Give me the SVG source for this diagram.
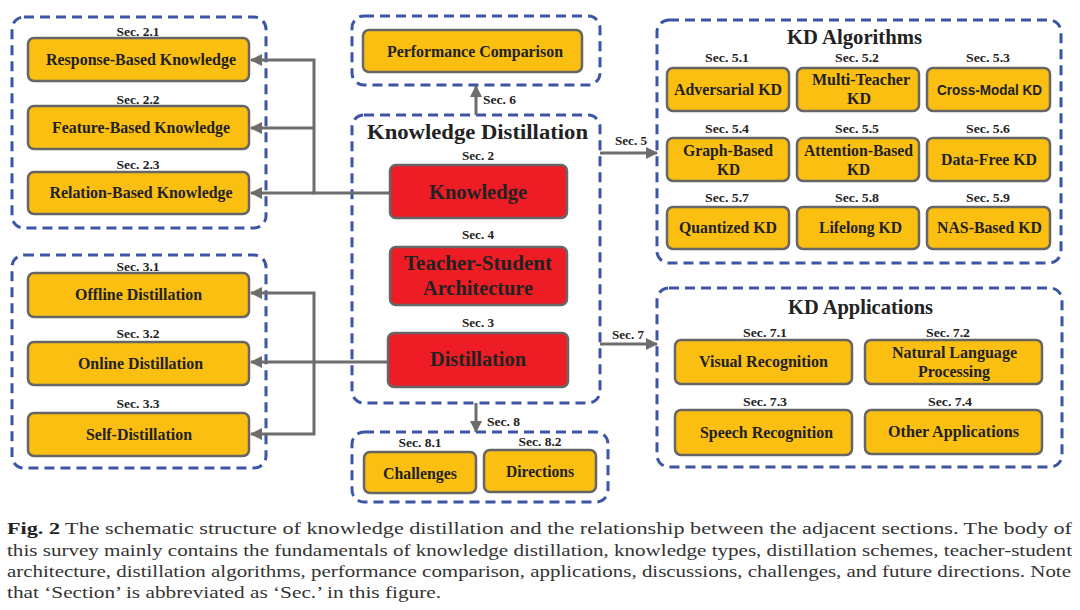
<svg xmlns="http://www.w3.org/2000/svg" width="1080" height="610" viewBox="0 0 1080 610" font-family="Liberation Serif, DejaVu Serif, Times New Roman, serif">
<defs>
<style>
.grp{fill:none;stroke:#3b56a6;stroke-width:3;stroke-dasharray:10 6}
.ob{fill:#fbbf12;stroke:#666;stroke-width:2.5}
.rb{fill:#ee1c24;stroke:#666;stroke-width:2.5}
text{font-family:Liberation Serif,DejaVu Serif,Times New Roman,serif;font-weight:bold;fill:#222;text-anchor:middle}
.t{font-size:16px}
.ts{font-family:Liberation Sans,Arial,sans-serif;font-size:14px}
.s{font-size:12px}
.sl{font-size:12px;text-anchor:start}
.h{font-size:20.5px}
.r{font-size:20.5px}
.cap{font-weight:normal;font-size:17.5px;text-anchor:start;fill:#333}
.con{fill:none;stroke:#6d6d6d;stroke-width:3}
</style>
<marker id="ah" markerUnits="userSpaceOnUse" markerWidth="12" markerHeight="12" viewBox="0 0 12 12" refX="11" refY="6" orient="auto">
<path d="M0,0 L12,6 L0,12 z" fill="#6d6d6d"/>
</marker>
</defs>
<rect width="1080" height="610" fill="#fff"/>

<g id="group-knowledge-types">
<rect class="grp" x="12" y="17" width="254" height="211" rx="12"/>
</g>
<g id="group-schemes">
<rect class="grp" x="12" y="255" width="254" height="213" rx="12"/>
</g>
<g id="group-performance">
<rect class="grp" x="352" y="16" width="248" height="69" rx="12"/>
</g>
<g id="group-kd">
<rect class="grp" x="352" y="115" width="248" height="288" rx="12"/>
<text class="h" x="477.5" y="139" textLength="221" lengthAdjust="spacingAndGlyphs">Knowledge Distillation</text>
</g>
<g id="group-future">
<rect class="grp" x="352" y="432" width="256" height="70" rx="12"/>
</g>
<g id="group-algorithms">
<rect class="grp" x="657" y="20" width="404" height="243" rx="12"/>
<text class="h" x="854.5" y="44" textLength="135" lengthAdjust="spacingAndGlyphs">KD Algorithms</text>
</g>
<g id="group-applications">
<rect class="grp" x="657" y="288" width="405" height="179" rx="12"/>
<text class="h" x="860.5" y="314" textLength="145" lengthAdjust="spacingAndGlyphs">KD Applications</text>
</g>

<g id="connectors">
<path class="con" d="M390,193 H314 V60 H251" marker-end="url(#ah)"/>
<path class="con" d="M314,128 H251" marker-end="url(#ah)"/>
<path class="con" d="M314,193 H251" marker-end="url(#ah)"/>
<path class="con" d="M388,362 H314 V293 H251" marker-end="url(#ah)"/>
<path class="con" d="M314,362 H251" marker-end="url(#ah)"/>
<path class="con" d="M314,362 V434 H251" marker-end="url(#ah)"/>
<path class="con" d="M476,115 V86" marker-end="url(#ah)"/>
<text class="sl" x="483" y="104" textLength="33" lengthAdjust="spacingAndGlyphs">Sec. 6</text>
<path class="con" d="M600,153 H657" marker-end="url(#ah)"/>
<text class="sl" x="615" y="145" textLength="32" lengthAdjust="spacingAndGlyphs">Sec. 5</text>
<path class="con" d="M600,344 H657" marker-end="url(#ah)"/>
<text class="sl" x="612" y="339" textLength="32" lengthAdjust="spacingAndGlyphs">Sec. 7</text>
<path class="con" d="M476,403 V432" marker-end="url(#ah)"/>
<text class="sl" x="487" y="426" textLength="33" lengthAdjust="spacingAndGlyphs">Sec. 8</text>
</g>

<g id="n-response">
<text class="s" x="138" y="36" textLength="43" lengthAdjust="spacingAndGlyphs">Sec. 2.1</text>
<rect class="ob" x="28" y="38" width="221" height="43" rx="6"/>
<text class="t" x="141" y="65" textLength="190" lengthAdjust="spacingAndGlyphs">Response-Based Knowledge</text>
</g>
<g id="n-feature">
<text class="s" x="138" y="104" textLength="43" lengthAdjust="spacingAndGlyphs">Sec. 2.2</text>
<rect class="ob" x="28" y="106" width="221" height="43" rx="6"/>
<text class="t" x="141" y="133" textLength="178" lengthAdjust="spacingAndGlyphs">Feature-Based Knowledge</text>
</g>
<g id="n-relation">
<text class="s" x="138" y="169" textLength="43" lengthAdjust="spacingAndGlyphs">Sec. 2.3</text>
<rect class="ob" x="28" y="172" width="221" height="42" rx="6"/>
<text class="t" x="141" y="198" textLength="183" lengthAdjust="spacingAndGlyphs">Relation-Based Knowledge</text>
</g>

<g id="n-offline">
<text class="s" x="138" y="271" textLength="43" lengthAdjust="spacingAndGlyphs">Sec. 3.1</text>
<rect class="ob" x="28" y="273" width="221" height="44" rx="6"/>
<text class="t" x="138.5" y="300" textLength="127" lengthAdjust="spacingAndGlyphs">Offline Distillation</text>
</g>
<g id="n-online">
<text class="s" x="138" y="338" textLength="43" lengthAdjust="spacingAndGlyphs">Sec. 3.2</text>
<rect class="ob" x="28" y="342" width="221" height="43" rx="6"/>
<text class="t" x="140.5" y="369" textLength="125" lengthAdjust="spacingAndGlyphs">Online Distillation</text>
</g>
<g id="n-self">
<text class="s" x="138" y="408" textLength="43" lengthAdjust="spacingAndGlyphs">Sec. 3.3</text>
<rect class="ob" x="28" y="413" width="221" height="43" rx="6"/>
<text class="t" x="139" y="440" textLength="106" lengthAdjust="spacingAndGlyphs">Self-Distillation</text>
</g>

<g id="n-performance">
<rect class="ob" x="363" y="30" width="219" height="42" rx="6"/>
<text class="t" x="475" y="57" textLength="176" lengthAdjust="spacingAndGlyphs">Performance Comparison</text>
</g>

<g id="n-knowledge">
<text class="s" x="478" y="160" textLength="32" lengthAdjust="spacingAndGlyphs">Sec. 2</text>
<rect class="rb" x="390" y="165" width="177" height="53" rx="6"/>
<text class="r" x="478" y="199" textLength="98" lengthAdjust="spacingAndGlyphs">Knowledge</text>
</g>
<g id="n-teacher-student">
<text class="s" x="478" y="239" textLength="32" lengthAdjust="spacingAndGlyphs">Sec. 4</text>
<rect class="rb" x="390" y="247" width="177" height="58" rx="6"/>
<text class="r" x="478" y="270" textLength="148" lengthAdjust="spacingAndGlyphs">Teacher-Student</text>
<text class="r" x="478" y="295" textLength="110" lengthAdjust="spacingAndGlyphs">Architecture</text>
</g>
<g id="n-distillation">
<text class="s" x="478" y="327" textLength="32" lengthAdjust="spacingAndGlyphs">Sec. 3</text>
<rect class="rb" x="388" y="333" width="180" height="54" rx="6"/>
<text class="r" x="478" y="366" textLength="96" lengthAdjust="spacingAndGlyphs">Distillation</text>
</g>

<g id="n-challenges">
<text class="s" x="420" y="447" textLength="43" lengthAdjust="spacingAndGlyphs">Sec. 8.1</text>
<rect class="ob" x="364" y="452" width="112" height="41" rx="6"/>
<text class="t" x="420" y="479" textLength="74" lengthAdjust="spacingAndGlyphs">Challenges</text>
</g>
<g id="n-directions">
<text class="s" x="540" y="446" textLength="43" lengthAdjust="spacingAndGlyphs">Sec. 8.2</text>
<rect class="ob" x="484" y="450" width="112" height="42" rx="6"/>
<text class="t" x="540" y="477" textLength="68" lengthAdjust="spacingAndGlyphs">Directions</text>
</g>

<g id="n-adversarial">
<text class="s" x="727" y="62" textLength="44" lengthAdjust="spacingAndGlyphs">Sec. 5.1</text>
<rect class="ob" x="667" y="68" width="122" height="43" rx="6"/>
<text class="t" x="728" y="95" textLength="108" lengthAdjust="spacingAndGlyphs">Adversarial KD</text>
</g>
<g id="n-multiteacher">
<text class="s" x="857" y="62" textLength="44" lengthAdjust="spacingAndGlyphs">Sec. 5.2</text>
<rect class="ob" x="797" y="68" width="122" height="43" rx="6"/>
<text class="t" x="861" y="85" textLength="98" lengthAdjust="spacingAndGlyphs">Multi-Teacher</text>
<text class="t" x="859" y="104" textLength="24" lengthAdjust="spacingAndGlyphs">KD</text>
</g>
<g id="n-crossmodal">
<text class="s" x="988" y="62" textLength="44" lengthAdjust="spacingAndGlyphs">Sec. 5.3</text>
<rect class="ob" x="927" y="68" width="123" height="43" rx="6"/>
<text class="ts" x="989.5" y="95" textLength="105" lengthAdjust="spacingAndGlyphs">Cross-Modal KD</text>
</g>
<g id="n-graph">
<text class="s" x="727" y="133" textLength="44" lengthAdjust="spacingAndGlyphs">Sec. 5.4</text>
<rect class="ob" x="667" y="138" width="122" height="43" rx="6"/>
<text class="t" x="728" y="156" textLength="90" lengthAdjust="spacingAndGlyphs">Graph-Based</text>
<text class="t" x="728.5" y="175" textLength="23" lengthAdjust="spacingAndGlyphs">KD</text>
</g>
<g id="n-attention">
<text class="s" x="857" y="133" textLength="44" lengthAdjust="spacingAndGlyphs">Sec. 5.5</text>
<rect class="ob" x="797" y="138" width="122" height="43" rx="6"/>
<text class="t" x="858.5" y="156" textLength="109" lengthAdjust="spacingAndGlyphs">Attention-Based</text>
<text class="t" x="858.5" y="175" textLength="23" lengthAdjust="spacingAndGlyphs">KD</text>
</g>
<g id="n-datafree">
<text class="s" x="988" y="133" textLength="44" lengthAdjust="spacingAndGlyphs">Sec. 5.6</text>
<rect class="ob" x="927" y="138" width="123" height="43" rx="6"/>
<text class="t" x="989" y="165" textLength="96" lengthAdjust="spacingAndGlyphs">Data-Free KD</text>
</g>
<g id="n-quantized">
<text class="s" x="727" y="202" textLength="44" lengthAdjust="spacingAndGlyphs">Sec. 5.7</text>
<rect class="ob" x="667" y="207" width="122" height="42" rx="6"/>
<text class="t" x="728" y="233" textLength="98" lengthAdjust="spacingAndGlyphs">Quantized KD</text>
</g>
<g id="n-lifelong">
<text class="s" x="857" y="202" textLength="44" lengthAdjust="spacingAndGlyphs">Sec. 5.8</text>
<rect class="ob" x="797" y="207" width="122" height="42" rx="6"/>
<text class="t" x="860.5" y="233" textLength="83" lengthAdjust="spacingAndGlyphs">Lifelong KD</text>
</g>
<g id="n-nas">
<text class="s" x="988" y="202" textLength="44" lengthAdjust="spacingAndGlyphs">Sec. 5.9</text>
<rect class="ob" x="927" y="207" width="123" height="42" rx="6"/>
<text class="t" x="989.5" y="233" textLength="105" lengthAdjust="spacingAndGlyphs">NAS-Based KD</text>
</g>

<g id="n-visual">
<text class="s" x="765" y="337" textLength="44" lengthAdjust="spacingAndGlyphs">Sec. 7.1</text>
<rect class="ob" x="675" y="340" width="177" height="44" rx="6"/>
<text class="t" x="763.5" y="367" textLength="129" lengthAdjust="spacingAndGlyphs">Visual Recognition</text>
</g>
<g id="n-nlp">
<text class="s" x="948" y="337" textLength="44" lengthAdjust="spacingAndGlyphs">Sec. 7.2</text>
<rect class="ob" x="865" y="340" width="177" height="44" rx="6"/>
<text class="t" x="954.5" y="358" textLength="125" lengthAdjust="spacingAndGlyphs">Natural Language</text>
<text class="t" x="954" y="377" textLength="72" lengthAdjust="spacingAndGlyphs">Processing</text>
</g>
<g id="n-speech">
<text class="s" x="765" y="406" textLength="44" lengthAdjust="spacingAndGlyphs">Sec. 7.3</text>
<rect class="ob" x="675" y="410" width="177" height="45" rx="6"/>
<text class="t" x="766.5" y="438" textLength="133" lengthAdjust="spacingAndGlyphs">Speech Recognition</text>
</g>
<g id="n-other">
<text class="s" x="950" y="406" textLength="44" lengthAdjust="spacingAndGlyphs">Sec. 7.4</text>
<rect class="ob" x="865" y="410" width="177" height="44" rx="6"/>
<text class="t" x="953.5" y="437" textLength="131" lengthAdjust="spacingAndGlyphs">Other Applications</text>
</g>

<g id="caption">
<text class="cap" x="7" y="534" textLength="1065" lengthAdjust="spacingAndGlyphs"><tspan font-weight="bold" fill="#222">Fig. 2</tspan> The schematic structure of knowledge distillation and the relationship between the adjacent sections. The body of</text>
<text class="cap" x="7" y="556" textLength="1065" lengthAdjust="spacingAndGlyphs">this survey mainly contains the fundamentals of knowledge distillation, knowledge types, distillation schemes, teacher-student</text>
<text class="cap" x="7" y="577" textLength="1064" lengthAdjust="spacingAndGlyphs">architecture, distillation algorithms, performance comparison, applications, discussions, challenges, and future directions. Note</text>
<text class="cap" x="7" y="598" textLength="434" lengthAdjust="spacingAndGlyphs">that ‘Section’ is abbreviated as ‘Sec.’ in this figure.</text>
</g>
</svg>
